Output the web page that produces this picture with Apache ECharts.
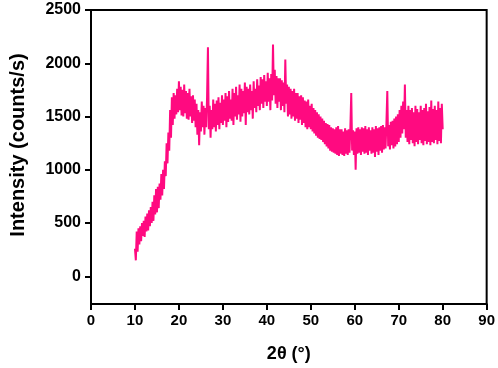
<!DOCTYPE html>
<html>
<head>
<meta charset="utf-8">
<script src="https://cdn.jsdelivr.net/npm/echarts@6/dist/echarts.min.js"></script>
<style>
  html, body { margin: 0; padding: 0; background: #fff; }
  #chartXrd { width: 498px; height: 368px; }
</style>
</head>
<body>
<div id="chartXrd"></div>
<script>
// scan settings: 2θ start and step (degrees)
var twoThetaStart = 10.0;
var twoThetaStep = 0.2;
// intensity (counts/s), one row per degree
var intensity = [
  260, 150, 420, 230, 450,
  300, 470, 330, 500, 380,
  520, 370, 560, 420, 590,
  430, 620, 470, 650, 500,
  700, 520, 760, 580, 820,
  600, 840, 640, 870, 720,
  960, 760, 1000, 820, 1080,
  940, 1250, 1060, 1350, 1180,
  1560, 1300, 1680, 1420, 1720,
  1480, 1700, 1520, 1760, 1540,
  1830, 1560, 1780, 1510, 1750,
  1500, 1800, 1530, 1740, 1480,
  1720, 1470, 1760, 1500, 1690,
  1440, 1700, 1460, 1660, 1400,
  1620, 1330, 1560, 1230, 1540,
  1360, 1640, 1400, 1600, 1330,
  1580, 1400, 1680, 2150, 1380,
  1600, 1300, 1560, 1380, 1660,
  1400, 1620, 1360, 1650, 1420,
  1680, 1380, 1630, 1440, 1700,
  1420, 1660, 1460, 1720, 1400,
  1690, 1450, 1740, 1480, 1660,
  1460, 1760, 1420, 1720, 1500,
  1780, 1470, 1700, 1520, 1800,
  1450, 1760, 1500, 1740, 1530,
  1820, 1420, 1780, 1540, 1760,
  1520, 1800, 1560, 1740, 1480,
  1830, 1580, 1760, 1540, 1850,
  1600, 1790, 1560, 1870, 1620,
  1850, 1580, 1890, 1640, 1830,
  1600, 1910, 1640, 1860, 1560,
  1900, 1650, 2175, 1700, 1940,
  1620, 1880, 1580, 1860, 1640,
  1860, 1560, 1840, 1600, 1820,
  1540, 2035, 1620, 1800, 1500,
  1780, 1520, 1760, 1480, 1740,
  1500, 1760, 1460, 1720, 1480,
  1720, 1440, 1690, 1470, 1700,
  1420, 1680, 1440, 1650, 1400,
  1640, 1380, 1660, 1400, 1600,
  1380, 1620, 1360, 1580, 1340,
  1560, 1320, 1540, 1300, 1520,
  1290, 1500, 1280, 1480, 1260,
  1460, 1240, 1440, 1220, 1430,
  1200, 1420, 1180, 1400, 1170,
  1390, 1160, 1380, 1150, 1400,
  1140, 1410, 1130, 1380, 1150,
  1380, 1140, 1360, 1130, 1390,
  1150, 1370, 1140, 1380, 1160,
  1400, 1720, 1180, 1370, 1140,
  1360, 1000, 1390, 1150, 1400,
  1160, 1380, 1140, 1400, 1170,
  1390, 1150, 1410, 1160, 1380,
  1140, 1400, 1180, 1370, 1150,
  1400, 1160, 1380, 1120, 1410,
  1170, 1390, 1140, 1400, 1180,
  1410, 1160, 1420, 1190, 1400,
  1200, 1440, 1740, 1220, 1420,
  1190, 1450, 1230, 1460, 1200,
  1480, 1220, 1500, 1240, 1520,
  1260, 1560, 1300, 1600, 1340,
  1640, 1380, 1800, 1300, 1560,
  1260, 1600, 1240, 1560, 1280,
  1580, 1250, 1540, 1220, 1600,
  1260, 1570, 1240, 1540, 1280,
  1600, 1250, 1560, 1230, 1580,
  1270, 1620, 1240, 1550, 1260,
  1590, 1230, 1650, 1260, 1570,
  1250, 1600, 1280, 1560, 1240,
  1640, 1270, 1580, 1250, 1620,
  1380
];
var yTickValues = [0, 500, 1000, 1500, 2000, 2500];

var points = intensity.map(function (v, i) {
  return [+(twoThetaStart + i * twoThetaStep).toFixed(1), v];
});

var chartXrd = echarts.init(document.getElementById('chartXrd'));
var labelFont = {
  color: '#000',
  fontFamily: 'Liberation Sans, Arial, sans-serif',
  fontWeight: 'bold'
};
var chart_option = {
  animation: false,
  grid: {
    left: 91,
    right: 11,
    top: 10,
    bottom: 61,
    show: true,
    borderColor: '#000',
    borderWidth: 2,
    backgroundColor: 'transparent'
  },
  xAxis: {
    type: 'value',
    min: 0,
    max: 90,
    interval: 10,
    name: '2θ (°)',
    nameLocation: 'middle',
    nameGap: 41,
    nameTextStyle: {
      color: '#000',
      fontFamily: 'Liberation Sans, Arial, sans-serif',
      fontWeight: 'bold',
      fontSize: 18
    },
    axisLine: { show: true, onZero: false, lineStyle: { color: '#000', width: 2 } },
    axisTick: { show: true, inside: false, length: 6, lineStyle: { color: '#000', width: 2 } },
    axisLabel: Object.assign({ margin: 9, fontSize: 15 }, labelFont),
    splitLine: { show: false }
  },
  yAxis: {
    type: 'value',
    min: -260,
    max: 2500,
    name: 'Intensity (counts/s)',
    nameLocation: 'middle',
    nameGap: 63,
    nameTextStyle: {
      color: '#000',
      fontFamily: 'Liberation Sans, Arial, sans-serif',
      fontWeight: 'bold',
      fontSize: 20,
      padding: [0, 0, 0, 24]
    },
    axisLine: { show: true, onZero: false, lineStyle: { color: '#000', width: 2 } },
    axisTick: {
      show: true,
      inside: false,
      length: 6,
      customValues: yTickValues,
      lineStyle: { color: '#000', width: 2 }
    },
    axisLabel: Object.assign({
      margin: 10,
      fontSize: 16,
      customValues: yTickValues,
      formatter: function (v) { return String(v); }
    }, labelFont),
    splitLine: { show: false }
  },
  series: [
    {
      type: 'line',
      data: points,
      showSymbol: false,
      lineStyle: { color: '#ff0a80', width: 2 },
      itemStyle: { color: '#ff0a80' }
    }
  ]
};
chartXrd.setOption(chart_option);
</script>
</body>
</html>
